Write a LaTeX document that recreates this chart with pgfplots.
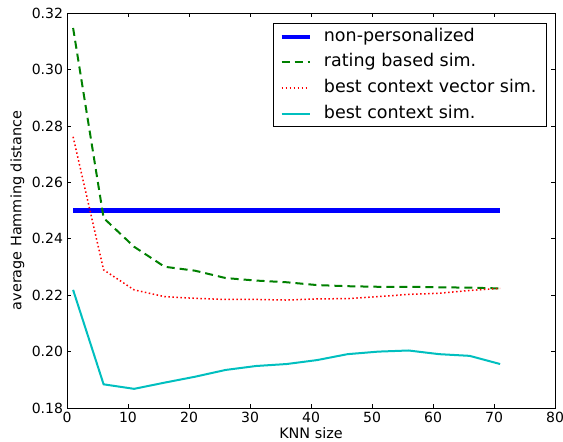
\documentclass[border=0pt]{standalone}
\usepackage{fontspec}
\setmainfont{DejaVu Sans}
\usepackage{pgfplots}
\pgfplotsset{compat=1.18}
\definecolor{mplblue}{RGB}{0,0,255}
\definecolor{mplgreen}{RGB}{0,128,0}
\definecolor{mplred}{RGB}{255,0,0}
\definecolor{mplcyan}{RGB}{0,191,191}
\begin{document}
\begin{tikzpicture}
\begin{axis}[
    scale only axis,
    width=488pt,
    height=394.7pt,
    xmin=0, xmax=80,
    ymin=0.18, ymax=0.32,
    xtick={0,10,...,80},
    ytick={0.18,0.20,0.22,0.24,0.26,0.28,0.30,0.32},
    yticklabel style={/pgf/number format/fixed, /pgf/number format/fixed zerofill,
        /pgf/number format/precision=2, xshift=-0.5pt},
    /pgf/number format/assume math mode=true,
    tick label style={font=\fontsize{14}{16}\selectfont},
    label style={font=\fontsize{14.4}{16}\selectfont},
    tick align=inside,
    tick pos=both,
    major tick length=4pt,
    tick style={black, line width=0.8pt},
    axis line style={black, line width=1pt},
    xticklabel style={yshift=-1pt},
    xlabel={KNN size},
    ylabel={average Hamming distance},
    xlabel style={at={(axis description cs:0.5,0)}, anchor=center, yshift=-25pt},
    ylabel style={at={(axis description cs:0,0.5)}, anchor=center, yshift=49.5pt},
    legend cell align=left,
    legend image code/.code={\draw[#1] (0pt,0pt) -- (28pt,0pt);},
    legend style={at={(1,1)}, anchor=north east, xshift=-8pt, yshift=-10pt,
        draw=black, line width=1pt,
        font=\fontsize{17.5}{20}\selectfont,
        row sep=4.7pt, column sep=8pt, inner xsep=6pt, inner ysep=2.5pt,
        nodes={inner xsep=4pt, inner ysep=2pt, text height=13pt, text depth=4pt}},
]
\addplot[mplblue, line width=4.5pt] coordinates {(1,0.25) (71,0.25)};
\addlegendentry{non-personalized}

\addplot[mplgreen, line width=2pt, dash pattern=on 8pt off 5pt] coordinates {
    (1,0.3148) (6,0.2474) (11,0.2372) (16,0.2301) (21,0.2287) (26,0.2261)
    (31,0.2252) (36,0.2246) (41,0.2236) (46,0.2232) (51,0.2230) (56,0.2230)
    (61,0.2228) (66,0.2227) (71,0.2224)
};
\addlegendentry{rating based sim.}

\addplot[mplred, line width=1.5pt, dash pattern=on 1.5pt off 2.5pt] coordinates {
    (1,0.2762) (6,0.2290) (11,0.2219) (16,0.2195) (21,0.2189) (26,0.2185)
    (31,0.2185) (36,0.2183) (41,0.2187) (46,0.2188) (51,0.2195) (56,0.2203)
    (61,0.2207) (66,0.2217) (71,0.2224)
};
\addlegendentry{best context vector sim.}

\addplot[mplcyan, line width=2pt] coordinates {
    (1,0.2219) (6,0.1884) (11,0.1868) (16,0.1890) (21,0.1911) (26,0.1935)
    (31,0.1949) (36,0.1956) (41,0.1970) (46,0.1991) (51,0.2000) (56,0.2004)
    (61,0.1991) (66,0.1985) (71,0.1956)
};
\addlegendentry{best context sim.}
\end{axis}
\pgfresetboundingbox
\path[use as bounding box] ([shift={(-67pt,-33pt)}]current axis.south west)
    rectangle ([shift={(8pt,13.3pt)}]current axis.north east);
\end{tikzpicture}
\end{document}
